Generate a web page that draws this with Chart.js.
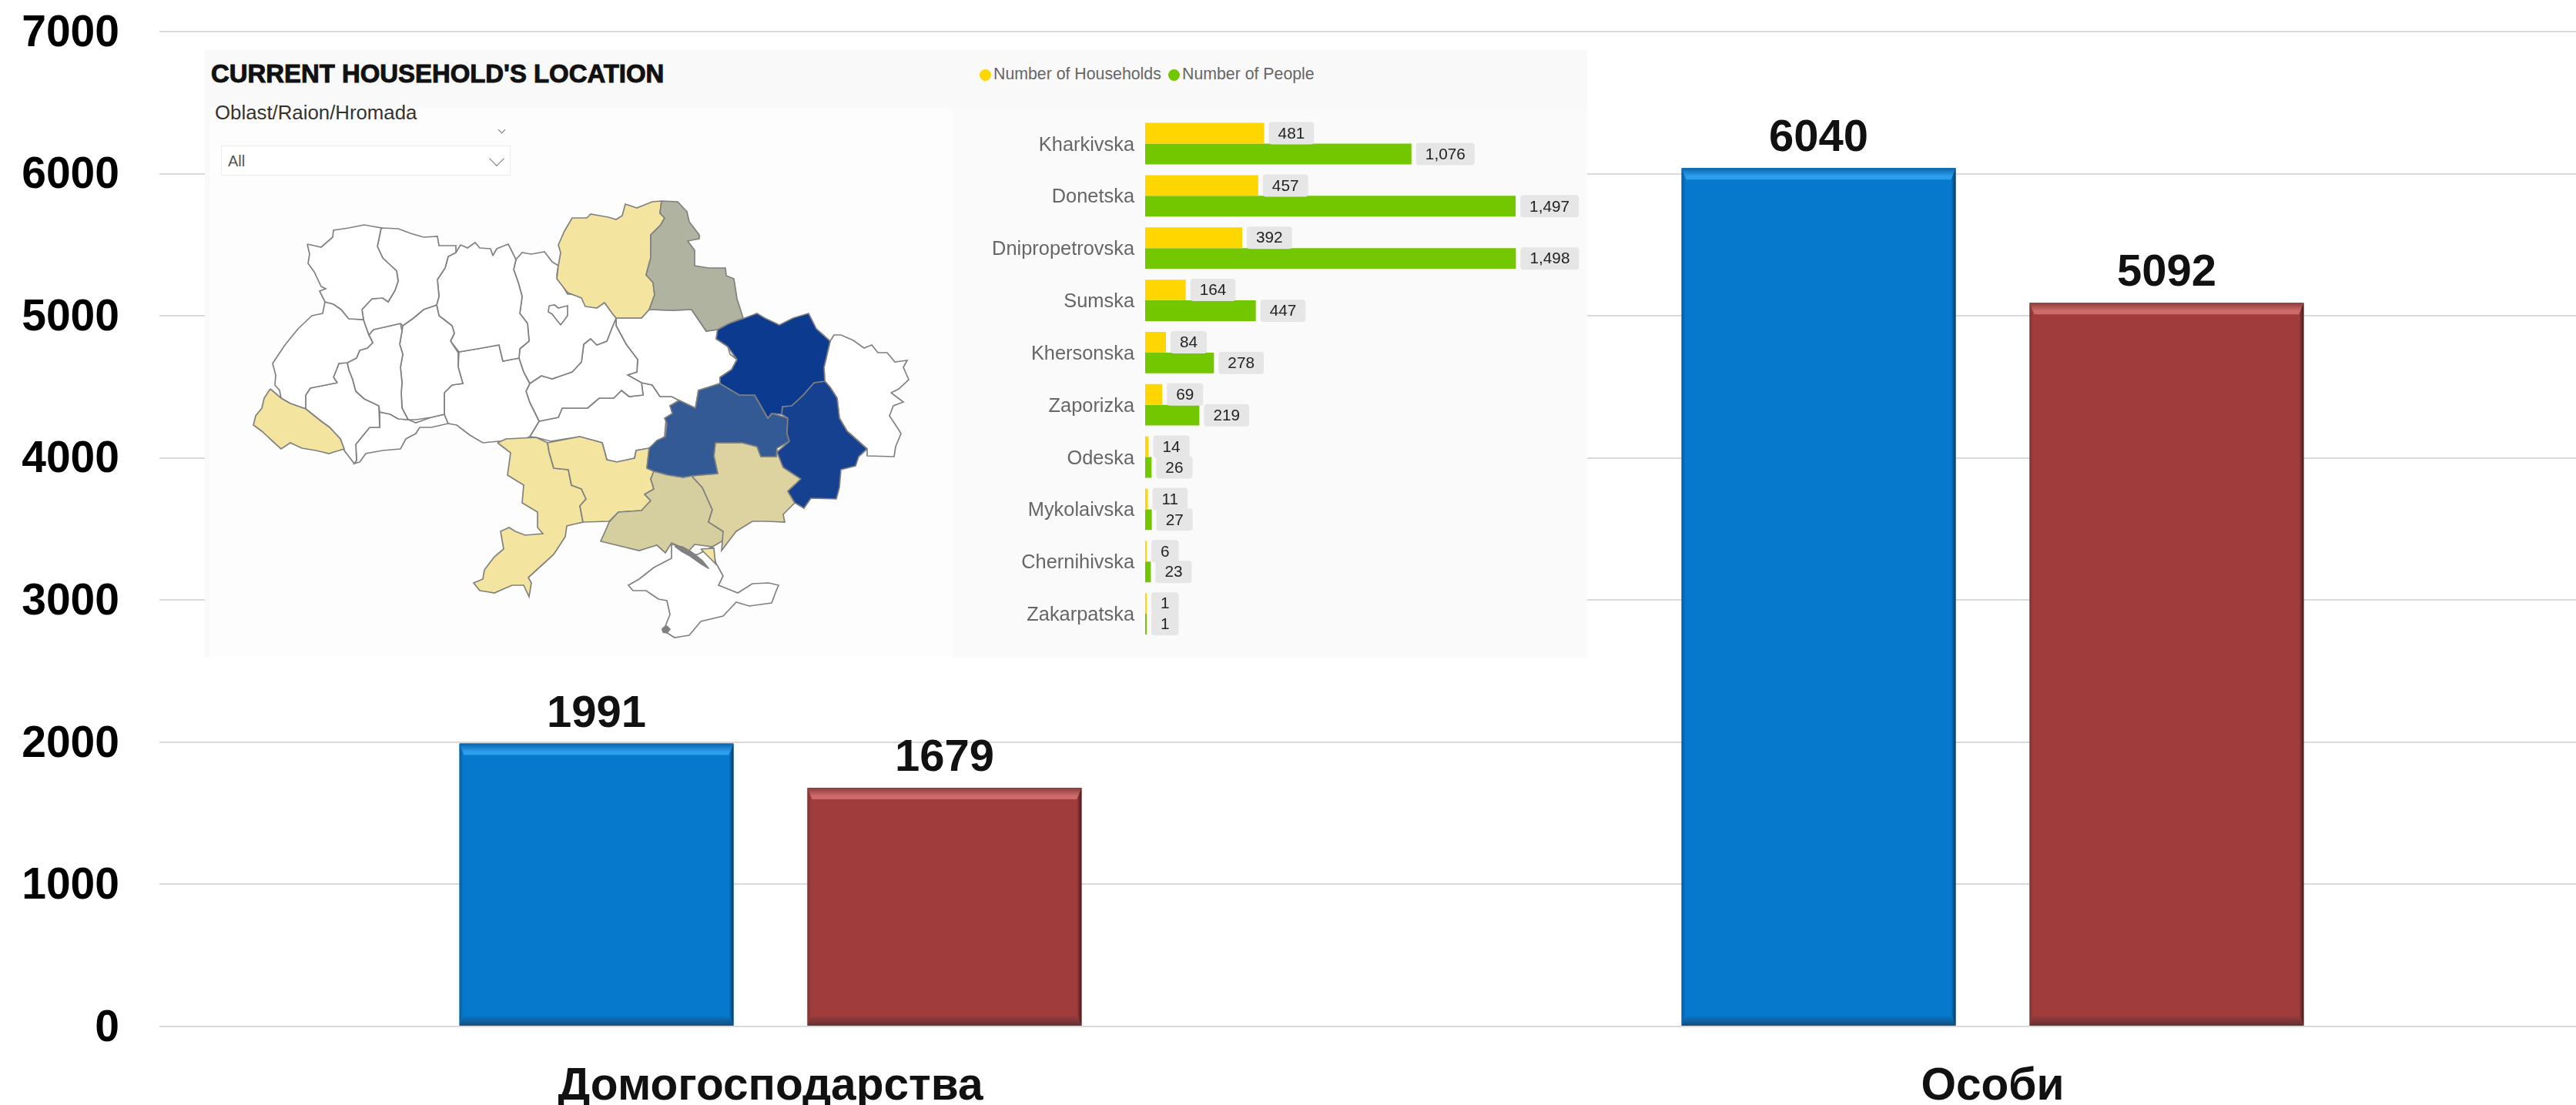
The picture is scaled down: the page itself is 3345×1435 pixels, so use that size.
<!DOCTYPE html>
<html lang="uk">
<head>
    <meta charset="UTF-8">
    <title>Домогосподарства та особи</title>
    <script src="https://cdn.jsdelivr.net/npm/chart.js"></script>
    <style>
        html, body {
            margin: 0;
            padding: 0;
            width: 3345px;
            height: 1435px;
            overflow: hidden;
            background: #fff;
            font-family: "Liberation Sans", Arial, sans-serif;
        }

        #mainWrap { position: absolute; left: 0; top: 0; width: 3345px; height: 1435px; overflow: hidden; }
        #mainChart { position: absolute; left: 0; top: 0; }

        #panel { position: absolute; left: 266px; top: 65px; width: 1795px; height: 788px; background: #f9f9f9; }
        #mapArea { position: absolute; left: 6px; top: 75px; width: 964px; height: 713px; background: #fdfdfd; }
        #barArea { position: absolute; left: 970px; top: 74px; width: 825px; height: 714px; background: #fafafa; }

        #title { position: absolute; left: 8px; top: 12px; font-size: 32.9px; font-weight: bold; color: #111; -webkit-text-stroke: 1px #111; white-space: nowrap; }
        #slicerName { position: absolute; left: 13px; top: 67px; font-size: 25.8px; color: #333; white-space: nowrap; }
        #slicer { position: absolute; left: 21px; top: 124px; width: 374px; height: 37px; background: #fff; border: 1px solid #ececec; }
        #slicer span { position: absolute; left: 8px; top: 8px; font-size: 20px; color: #555; }
        .chev { position: absolute; border-right: 1.5px solid #777; border-bottom: 1.5px solid #777; transform: rotate(45deg); }

        .legendDot { position: absolute; width: 15px; height: 15px; border-radius: 50%; }
        .legendText { position: absolute; top: 19px; font-size: 21.3px; color: #666; white-space: nowrap; }

        #mapChart { position: absolute; left: 34px; top: 185px; }
        #barChart { position: absolute; left: 970px; top: 74px; }
    </style>
</head>
<body>
    <div id="mainWrap"><canvas id="mainChart" width="3400" height="1435"></canvas></div>

    <div id="panel">
        <div id="mapArea"></div>
        <div id="barArea"></div>
        <div id="title">CURRENT HOUSEHOLD'S LOCATION</div>
        <div id="slicerName">Oblast/Raion/Hromada</div>
        <div class="chev" style="left:382px;top:100px;width:6px;height:6px;"></div>
        <div id="slicer"><span>All</span><div class="chev" style="left:350px;top:9px;width:13px;height:13px;"></div></div>
        <div class="legendDot" style="left:1006px;top:25px;background:#ffd600;"></div>
        <div class="legendText" style="left:1024px;">Number of Households</div>
        <div class="legendDot" style="left:1251px;top:25px;background:#73c700;"></div>
        <div class="legendText" style="left:1269px;">Number of People</div>
        <canvas id="mapChart" width="900" height="600"></canvas>
        <canvas id="barChart" width="825" height="714"></canvas>
    </div>

    <script>
        // main chart
        const categories = ['Домогосподарства', 'Особи'];
        const blueValues = [1991, 6040];
        const redValues = [1679, 5092];
        const yTicks = [0, 1000, 2000, 3000, 4000, 5000, 6000, 7000];

        // inset bars
        const oblastNames = ['Kharkivska', 'Donetska', 'Dnipropetrovska', 'Sumska', 'Khersonska', 'Zaporizka', 'Odeska', 'Mykolaivska', 'Chernihivska', 'Zakarpatska'];
        const households = [481, 457, 392, 164, 84, 69, 14, 11, 6, 1];
        const people = [1076, 1497, 1498, 447, 278, 219, 26, 27, 23, 1];

        // inset map, oblast outlines, in map units
        const volyn = [[99,67],[117,71],[132,58],[133,49],[153,46],[173,42],[195,46],[190,70],[197,85],[215,102],[217,115],[213,127],[204,142],[197,137],[183,138],[170,152],[172,165],[153,164],[143,152],[133,145],[122,142],[115,128],[123,125],[117,122],[108,103],[100,92],[102,80]];
        const rivne = [[195,46],[217,47],[233,53],[250,58],[268,57],[270,69],[292,69],[292,78],[282,83],[278,98],[268,113],[270,135],[267,146],[250,152],[237,163],[223,173],[220,170],[203,174],[185,178],[179,185],[172,165],[170,152],[183,138],[197,137],[204,142],[213,127],[217,115],[215,102],[197,85],[190,70]];
        const lviv = [[122,142],[133,145],[143,152],[153,164],[172,165],[179,185],[184,195],[177,202],[167,205],[163,215],[151,221],[140,222],[137,230],[133,240],[138,247],[103,254],[97,263],[97,281],[77,274],[65,267],[63,257],[57,250],[58,237],[54,222],[70,198],[87,177],[105,160],[119,157]];
        const ternopil = [[151,221],[163,215],[167,205],[177,202],[184,195],[179,185],[185,178],[203,174],[220,170],[222,180],[219,197],[223,210],[220,227],[222,247],[221,260],[222,280],[230,295],[217,294],[207,288],[193,285],[192,277],[173,268],[162,258],[158,243],[153,230]];
        const khmelnytska = [[223,173],[237,163],[250,152],[267,146],[270,160],[287,173],[290,183],[285,193],[295,208],[295,227],[301,248],[287,250],[277,260],[277,288],[260,292],[240,295],[230,295],[222,280],[221,260],[222,247],[220,227],[223,210],[219,197],[222,180]];
        const zhytomyr = [[292,78],[298,68],[307,72],[317,65],[323,72],[337,73],[340,82],[345,73],[360,67],[370,87],[367,100],[373,117],[378,135],[375,157],[385,170],[387,193],[375,203],[374,215],[353,219],[348,198],[320,203],[296,207],[285,193],[290,183],[287,173],[270,160],[267,146],[270,135],[268,113],[278,98],[282,83]];
        const kyivOblast = [[370,87],[378,78],[390,80],[407,77],[417,90],[425,95],[423,108],[437,132],[453,133],[463,148],[485,143],[500,163],[495,175],[488,193],[475,198],[467,190],[458,197],[455,220],[443,233],[417,242],[403,238],[388,248],[380,233],[374,215],[375,203],[387,193],[385,170],[375,157],[378,135],[373,117],[367,100]];
        const kyivCity = [[413,147],[420,146],[425,150],[437,147],[437,160],[428,172],[417,158],[412,155]];
        const vinnytsia = [[296,207],[320,203],[348,198],[353,219],[374,215],[380,233],[388,248],[383,258],[388,273],[400,297],[388,317],[370,325],[348,323],[327,325],[310,315],[293,302],[282,300],[277,288],[277,260],[287,250],[301,248],[295,227]];
        const ivanoFrankivsk = [[138,247],[133,240],[137,230],[140,222],[151,221],[153,230],[158,243],[162,258],[173,268],[192,277],[193,305],[180,305],[162,327],[163,348],[160,352],[147,335],[142,320],[128,305],[117,297],[97,281],[97,263],[103,254]];
        const zakarpattia = [[51,255],[65,267],[77,274],[97,281],[117,297],[128,305],[142,320],[147,333],[127,339],[110,335],[92,332],[77,325],[65,333],[53,322],[40,310],[29,302],[32,290],[40,280],[43,267]];
        const chernivtsi = [[193,285],[207,288],[217,294],[230,295],[240,299],[260,292],[277,288],[282,300],[260,305],[245,305],[240,313],[227,320],[220,333],[197,335],[175,339],[167,350],[160,352],[163,348],[162,327],[180,305],[193,305]];
        const cherkasy = [[388,248],[403,238],[417,242],[443,233],[455,220],[458,197],[467,190],[475,198],[488,193],[495,175],[500,163],[500,173],[513,197],[528,217],[527,233],[515,237],[533,247],[535,263],[517,265],[507,257],[497,267],[478,267],[463,280],[430,280],[425,292],[400,297],[388,273],[383,258]];
        const poltava = [[500,163],[517,163],[533,163],[543,152],[573,153],[598,152],[617,180],[632,178],[630,190],[645,200],[648,210],[657,217],[650,230],[635,240],[635,248],[607,257],[603,280],[582,270],[572,265],[557,265],[547,250],[533,247],[515,237],[527,233],[528,217],[513,197],[500,173]];
        const kirovohrad = [[400,297],[425,292],[430,280],[463,280],[478,267],[497,267],[507,257],[517,265],[535,263],[533,247],[547,250],[557,265],[572,265],[582,270],[570,277],[577,287],[565,293],[563,317],[543,332],[526,335],[524,345],[501,350],[488,347],[482,325],[453,317],[415,323],[396,318],[388,317]];
        const dnipro = [[603,280],[607,257],[635,248],[647,255],[660,263],[680,263],[697,293],[703,287],[723,293],[722,313],[725,323],[709,332],[708,343],[688,343],[683,330],[664,325],[629,325],[627,342],[632,365],[598,368],[587,370],[568,367],[549,362],[540,358],[543,332],[553,322],[564,317],[566,300],[563,293],[573,287],[570,277],[582,270]];
        const kharkiv = [[632,178],[647,170],[667,163],[683,157],[693,163],[712,172],[730,163],[750,157],[760,177],[778,193],[770,227],[771,245],[757,247],[743,263],[728,277],[716,278],[715,288],[702,287],[697,293],[680,263],[660,263],[635,248],[635,240],[650,230],[657,217],[645,200],[630,190]];
        const luhansk = [[778,193],[783,185],[792,185],[808,192],[822,202],[832,198],[840,208],[852,208],[862,220],[878,218],[873,227],[880,243],[867,255],[857,260],[873,272],[860,277],[855,290],[865,305],[870,313],[863,330],[861,343],[826,342],[826,333],[800,310],[790,293],[787,267],[778,253],[771,245],[770,227]];
        const donetsk = [[757,247],[771,245],[778,253],[787,267],[790,293],[800,310],[826,333],[815,343],[811,355],[792,360],[790,383],[786,398],[753,397],[744,410],[732,403],[723,388],[740,372],[717,357],[709,337],[725,323],[722,313],[723,293],[715,288],[716,278],[728,277],[743,263]];
        const zaporizhzhia = [[629,325],[664,325],[683,330],[688,343],[708,343],[709,337],[717,357],[740,372],[723,388],[732,403],[717,418],[719,428],[694,427],[677,427],[656,440],[646,453],[637,465],[639,440],[620,428],[625,412],[612,383],[598,368],[632,365],[627,342]];
        const kherson = [[549,362],[568,367],[587,370],[598,368],[612,383],[625,412],[620,428],[639,440],[639,452],[625,460],[602,457],[595,465],[572,455],[564,468],[553,458],[530,465],[480,453],[488,435],[491,428],[503,415],[533,413],[545,400],[537,392],[549,385],[545,372]];
        const crimea = [[572,457],[572,475],[549,487],[530,502],[516,510],[522,517],[539,517],[555,528],[566,530],[570,548],[564,563],[560,568],[576,578],[595,575],[610,557],[639,550],[656,532],[673,537],[702,533],[708,517],[711,510],[698,507],[677,508],[658,520],[633,510],[639,498],[629,480],[625,460],[606,470],[593,470],[579,458]];
        const mykolaiv = [[411,325],[453,317],[482,325],[488,347],[501,350],[524,345],[526,335],[543,332],[540,358],[549,362],[545,372],[549,385],[537,392],[545,400],[533,413],[503,415],[491,427],[457,428],[453,407],[461,398],[455,385],[442,380],[438,360],[419,358],[413,337]];
        const odesa = [[346,325],[357,320],[396,318],[411,325],[413,337],[419,358],[438,360],[442,380],[455,385],[461,398],[453,407],[457,428],[436,433],[434,447],[419,470],[386,500],[390,507],[387,525],[380,510],[365,510],[342,520],[323,517],[315,507],[327,502],[329,490],[342,473],[354,463],[350,440],[361,435],[369,440],[382,445],[405,443],[398,435],[398,415],[378,403],[380,380],[359,367],[363,338]];
        const chernihiv = [[559,11],[557,27],[563,33],[558,42],[545,55],[545,85],[539,107],[548,117],[550,133],[543,152],[533,163],[517,163],[500,163],[495,157],[485,143],[475,150],[460,148],[455,137],[437,130],[423,112],[425,95],[428,78],[425,68],[433,50],[443,33],[462,33],[467,28],[490,32],[500,35],[508,30],[512,15],[527,20],[547,12]];
        const sumy = [[559,11],[580,12],[592,25],[595,38],[608,55],[608,60],[593,63],[602,75],[602,95],[620,98],[642,98],[643,108],[653,112],[657,138],[665,163],[647,170],[632,178],[617,180],[598,152],[573,153],[543,152],[550,133],[548,117],[539,107],[545,85],[545,55],[558,42],[563,33],[557,27]];
        const arabat = [[610,463],[627,462],[629,482],[620,473]];
        const sivash = [[576,459],[585,466],[596,472],[610,482],[620,488],[612,478],[598,467],[586,460]];
        const sevastopol = [[560,566],[566,563],[570,567],[566,572],[561,571]];

        const mapColors = {
            blank: '#ffffff',
            light: '#f3e5a0',
            kherson: '#d5ce9f',
            zaporizhzhia: '#dcd3a1',
            sumy: '#afb3a0',
            dnipro: '#335a95',
            donetsk: '#164090',
            kharkiv: '#0b3a8f',
            border: '#808080'
        };

        const mapRegions = [
            [sivash, 'border'], [sevastopol, 'border'],
            [kyivCity, 'blank'],
            [kharkiv, 'kharkiv'], [donetsk, 'donetsk'], [dnipro, 'dnipro'],
            [zaporizhzhia, 'zaporizhzhia'], [kherson, 'kherson'], [sumy, 'sumy'],
            [chernihiv, 'light'], [mykolaiv, 'light'], [odesa, 'light'], [zakarpattia, 'light'], [arabat, 'light'],
            [volyn, 'blank'], [rivne, 'blank'], [lviv, 'blank'], [ternopil, 'blank'], [khmelnytska, 'blank'],
            [zhytomyr, 'blank'], [kyivOblast, 'blank'], [vinnytsia, 'blank'], [ivanoFrankivsk, 'blank'],
            [chernivtsi, 'blank'], [cherkasy, 'blank'], [poltava, 'blank'], [kirovohrad, 'blank'],
            [luhansk, 'blank'], [crimea, 'blank']
        ];

        const mainFont = '"Liberation Sans", Arial, sans-serif';

        // shaded edges on the big bars, the old Excel "bevel" look
        function bevelPlugin(edges) {
            return {
                id: 'bevel',
                afterDatasetsDraw(chart) {
                    const ctx = chart.ctx;
                    chart.data.datasets.forEach((ds, i) => {
                        const c = edges[i];
                        chart.getDatasetMeta(i).data.forEach(bar => {
                            const x0 = bar.x - bar.width / 2;
                            const x1 = bar.x + bar.width / 2;
                            const top = bar.y;
                            const bottom = bar.base;

                            let g = ctx.createLinearGradient(0, top, 0, top + 15);
                            g.addColorStop(0, c.topDark);
                            g.addColorStop(0.7, c.topLight);
                            g.addColorStop(1, c.topLight);
                            ctx.fillStyle = g;
                            ctx.beginPath();
                            ctx.moveTo(x0, top);
                            ctx.lineTo(x1, top);
                            ctx.lineTo(x1 - 6, top + 15);
                            ctx.lineTo(x0 + 6, top + 15);
                            ctx.closePath();
                            ctx.fill();

                            g = ctx.createLinearGradient(x1 - 6, 0, x1, 0);
                            g.addColorStop(0, c.body);
                            g.addColorStop(1, c.rightDark);
                            ctx.fillStyle = g;
                            ctx.beginPath();
                            ctx.moveTo(x1, top);
                            ctx.lineTo(x1, bottom);
                            ctx.lineTo(x1 - 6, bottom - 13);
                            ctx.lineTo(x1 - 6, top + 15);
                            ctx.closePath();
                            ctx.fill();

                            g = ctx.createLinearGradient(x0, 0, x0 + 5, 0);
                            g.addColorStop(0, c.leftDark);
                            g.addColorStop(1, c.body);
                            ctx.fillStyle = g;
                            ctx.beginPath();
                            ctx.moveTo(x0, top);
                            ctx.lineTo(x0, bottom);
                            ctx.lineTo(x0 + 5, bottom - 13);
                            ctx.lineTo(x0 + 5, top + 15);
                            ctx.closePath();
                            ctx.fill();

                            g = ctx.createLinearGradient(0, bottom - 13, 0, bottom);
                            g.addColorStop(0, c.body);
                            g.addColorStop(0.25, c.bottomMid);
                            g.addColorStop(1, c.bottomDark);
                            ctx.fillStyle = g;
                            ctx.beginPath();
                            ctx.moveTo(x0 + 5, bottom - 13);
                            ctx.lineTo(x1 - 6, bottom - 13);
                            ctx.lineTo(x1, bottom);
                            ctx.lineTo(x0, bottom);
                            ctx.closePath();
                            ctx.fill();
                        });
                    });
                }
            };
        }

        const valueLabels = {
            id: 'valueLabels',
            afterDatasetsDraw(chart) {
                const ctx = chart.ctx;
                ctx.save();
                ctx.font = 'bold 58px ' + mainFont;
                ctx.fillStyle = '#111';
                ctx.textAlign = 'center';
                ctx.textBaseline = 'alphabetic';
                chart.data.datasets.forEach((ds, i) => {
                    chart.getDatasetMeta(i).data.forEach((bar, j) => {
                        ctx.fillText(ds.data[j], bar.x, bar.y - 22);
                    });
                });
                ctx.restore();
            }
        };

        const pillLabels = {
            id: 'pillLabels',
            afterDatasetsDraw(chart) {
                const ctx = chart.ctx;
                ctx.save();
                ctx.font = '20.8px ' + mainFont;
                ctx.textAlign = 'center';
                ctx.textBaseline = 'middle';
                chart.data.datasets.forEach((ds, i) => {
                    chart.getDatasetMeta(i).data.forEach((bar, j) => {
                        const text = ds.data[j].toLocaleString('en-US');
                        const w = ctx.measureText(text).width + 24;
                        const left = bar.x + 6;
                        ctx.fillStyle = '#e6e6e6';
                        ctx.beginPath();
                        ctx.roundRect(left, bar.y - 14.5, w, 29, 4);
                        ctx.fill();
                        ctx.fillStyle = '#222';
                        ctx.fillText(text, left + w / 2, bar.y + 1);
                    });
                });
                ctx.restore();
            }
        };

        new Chart(document.getElementById('mainChart'), {
            type: 'bar',
            data: {
                labels: categories,
                datasets: [
                    { data: blueValues, backgroundColor: '#0679cd' },
                    { data: redValues, backgroundColor: '#a03c3c' }
                ]
            },
            options: {
                responsive: false,
                animation: false,
                layout: { padding: { top: 41, right: 19 } },
                plugins: { legend: { display: false }, tooltip: { enabled: false } },
                datasets: { bar: { categoryPercentage: 0.5695, barPercentage: 0.7876 } },
                scales: {
                    x: {
                        grid: { display: false },
                        border: { display: false },
                        afterFit(axis) { axis.height = 102; axis.paddingLeft = 0; axis.paddingRight = 0; },
                        ticks: { color: '#111', padding: 36, font: { family: mainFont, size: 58.6, weight: 'bold' } }
                    },
                    y: {
                        min: 0,
                        max: 7000,
                        border: { display: false },
                        grid: { color: '#d9d9d9', lineWidth: 2, tickLength: 0 },
                        afterFit(axis) { axis.width = 207; axis.paddingTop = 0; axis.paddingBottom = 0; },
                        afterBuildTicks(axis) { axis.ticks = yTicks.map(value => ({ value })); },
                        ticks: {
                            color: '#000',
                            padding: 52,
                            // empty first line + tiny line height pushes the digits down onto the gridline
                            font: { family: mainFont, size: 57, weight: 'bold', lineHeight: '6px' },
                            callback: value => ['', String(value)]
                        }
                    }
                }
            },
            plugins: [
                bevelPlugin([
                    { body: '#0679cd', topDark: '#0a62a8', topLight: '#2b9eee', leftDark: '#0a5a99', rightDark: '#0a3a62', bottomMid: '#0a6cb4', bottomDark: '#124f7e' },
                    { body: '#a03c3c', topDark: '#8a3b3b', topLight: '#cf6a6a', leftDark: '#7c3535', rightDark: '#401c1c', bottomMid: '#8c3838', bottomDark: '#643232' }
                ]),
                valueLabels
            ]
        });

        new Chart(document.getElementById('barChart'), {
            type: 'bar',
            data: {
                labels: oblastNames,
                datasets: [
                    { data: households, backgroundColor: '#ffd600' },
                    { data: people, backgroundColor: '#73c700' }
                ]
            },
            options: {
                indexAxis: 'y',
                responsive: false,
                animation: false,
                layout: { padding: { top: 13.6, bottom: 22 } },
                plugins: { legend: { display: false }, tooltip: { enabled: false } },
                datasets: { bar: { categoryPercentage: 0.793, barPercentage: 1, minBarLength: 2 } },
                scales: {
                    x: { display: false, min: 0, max: 1786 },
                    y: {
                        border: { display: false },
                        grid: { display: false },
                        afterFit(axis) { axis.width = 251; axis.paddingTop = 0; axis.paddingBottom = 0; },
                        ticks: {
                            color: '#666',
                            padding: 6,
                            autoSkip: false,
                            font: { family: mainFont, size: 25.4, lineHeight: '4px' },
                            callback(value) { return ['', this.getLabelForValue(value)]; }
                        }
                    }
                }
            },
            plugins: [pillLabels]
        });

        new Chart(document.getElementById('mapChart'), {
            type: 'line',
            data: {
                datasets: mapRegions.map(([outline, colorKey]) => ({
                    data: outline.concat([outline[0]]).map(([x, y]) => ({ x, y })),
                    backgroundColor: mapColors[colorKey],
                    borderColor: mapColors.border,
                    borderWidth: 1.7,
                    pointRadius: 0,
                    tension: 0.001,
                    fill: 'shape'
                }))
            },
            options: {
                responsive: false,
                animation: false,
                plugins: { legend: { display: false }, tooltip: { enabled: false } },
                scales: {
                    x: { type: 'linear', display: false, min: 0, max: 900 },
                    y: { type: 'linear', display: false, min: 0, max: 600, reverse: true }
                }
            }
        });
    </script>
</body>
</html>
